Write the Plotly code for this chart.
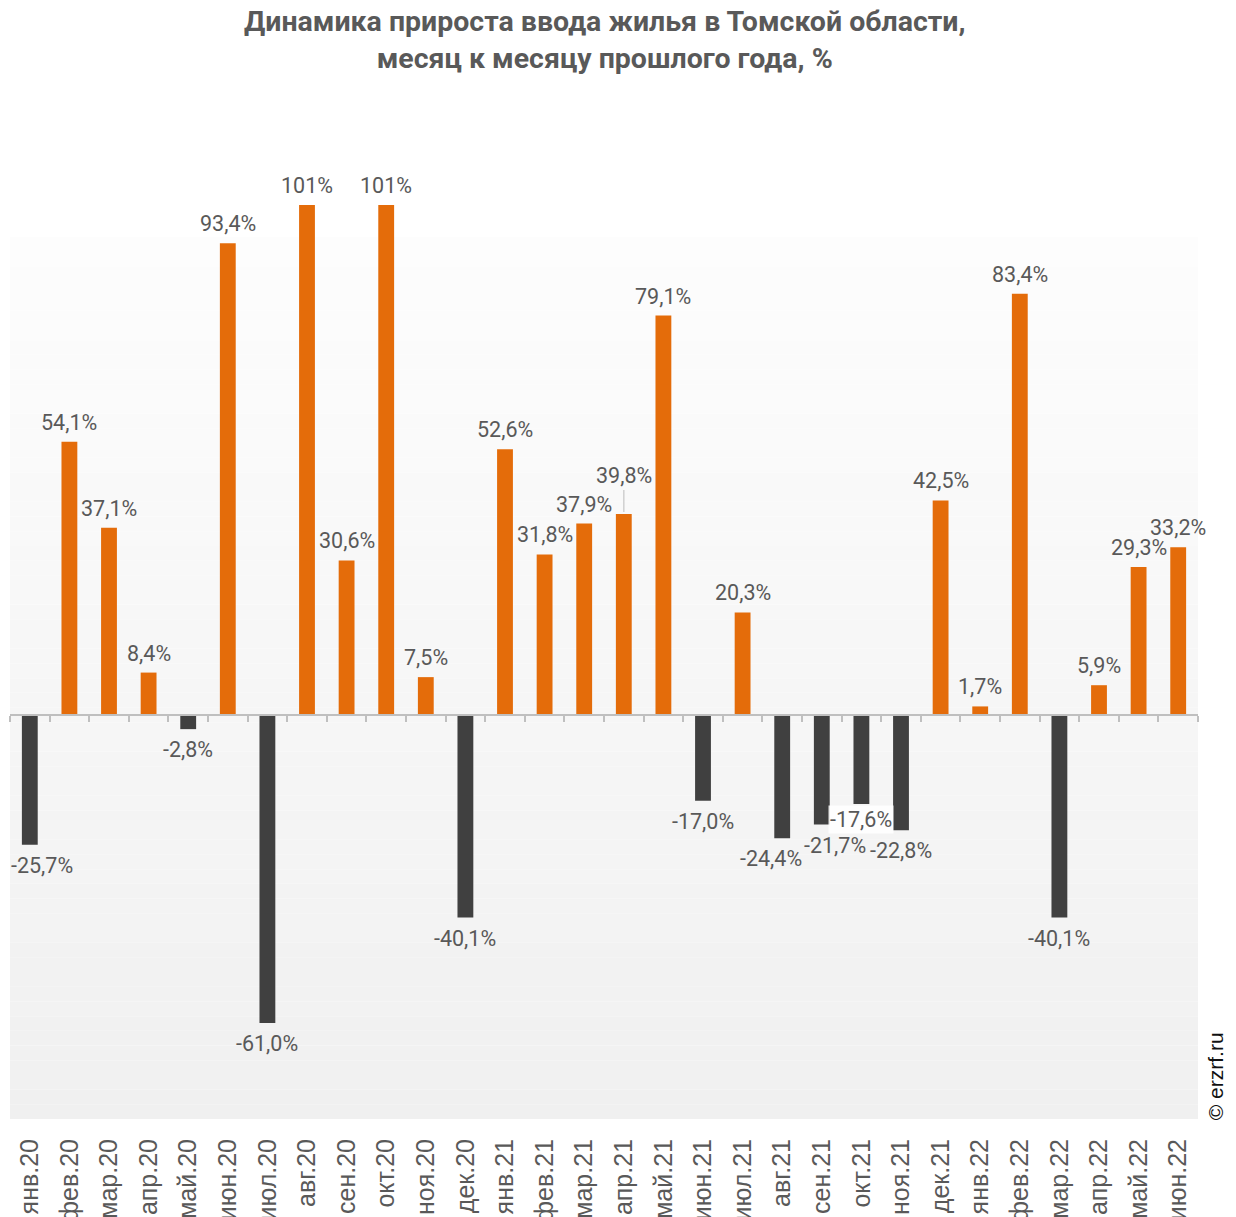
import plotly.graph_objects as go

# Monthly data
months = ['янв.20', 'фев.20', 'мар.20', 'апр.20', 'май.20', 'июн.20', 'июл.20', 'авг.20',
          'сен.20', 'окт.20', 'ноя.20', 'дек.20', 'янв.21', 'фев.21', 'мар.21', 'апр.21',
          'май.21', 'июн.21', 'июл.21', 'авг.21', 'сен.21', 'окт.21', 'ноя.21', 'дек.21',
          'янв.22', 'фев.22', 'мар.22', 'апр.22', 'май.22', 'июн.22']
growth = [-25.7, 54.1, 37.1, 8.4, -2.8, 93.4, -61.0, 101, 30.6, 101, 7.5, -40.1,
          52.6, 31.8, 37.9, 39.8, 79.1, -17.0, 20.3, -24.4, -21.7, -17.6, -22.8, 42.5,
          1.7, 83.4, -40.1, 5.9, 29.3, 33.2]

y_min, y_max = -80, 120
orange = '#E46C0A'
dark = '#404040'
text_color = '#595959'


def fmt(v):
    if abs(v) >= 100:
        return f"{v:.0f}%"
    return f"{v:.1f}%".replace('.', ',')


colors = [orange if v >= 0 else dark for v in growth]

fig = go.Figure()

fig.add_trace(go.Bar(
    x=months, y=growth,
    marker=dict(color=colors, line=dict(width=0)),
    width=0.4,
    hoverinfo='x+y',
    showlegend=False,
))

# invisible trace so the second x axis (ticks on the zero line) gets drawn
fig.add_trace(go.Bar(
    x=months, y=[0] * len(months), xaxis='x2', yaxis='y',
    marker=dict(color='rgba(0,0,0,0)'), hoverinfo='skip', showlegend=False,
))

# data labels
annotations = []
for m, v in zip(months, growth):
    a = dict(x=m, y=v, text=fmt(v), showarrow=False,
             font=dict(family='Roboto', size=21.5, color=text_color))
    if v >= 0:
        a.update(yanchor='bottom', yshift=5)
    else:
        a.update(yanchor='top', yshift=-6)
    if m == 'янв.20':
        a.update(xshift=12)
    if m == 'апр.21':
        # label lifted with a leader line
        a.update(showarrow=True, ax=0, ay=-24, arrowhead=0, arrowwidth=1.5,
                 arrowcolor='#D0D0D0', yanchor='bottom', yshift=0, standoff=2)
    if m == 'окт.21':
        a.update(bgcolor='rgba(255,255,255,0.85)', yshift=-1)
    if m == 'авг.21':
        a.update(xshift=-11)
    if m == 'сен.21':
        a.update(xshift=13)
    annotations.append(a)

# title
annotations.append(dict(
    xref='paper', yref='paper', x=0.5, y=1.068, xanchor='center', yanchor='middle',
    text='<b>Динамика прироста ввода жилья в Томской области,<br>месяц к месяцу прошлого года, %</b>',
    showarrow=False,
    font=dict(family='Roboto', size=28.5, color=text_color),
))

# watermark
annotations.append(dict(
    xref='paper', yref='paper', x=1.0145, y=-0.003, xanchor='center', yanchor='bottom',
    text='© erzrf.ru', textangle=-90, showarrow=False,
    font=dict(family='Liberation Sans, Arial', size=21, color='#111111'),
))

# vertical gradient background (white -> light gray)
shapes = []
n_bands = 60
top_frac = 0.873
for i in range(n_bands):
    y0 = top_frac * i / n_bands
    y1 = top_frac * (i + 1) / n_bands
    t = (i + 0.5) / n_bands  # 0 bottom, 1 top
    c = round(240 + 13 * t)
    shapes.append(dict(type='rect', xref='paper', yref='paper', x0=0, x1=1, y0=y0, y1=y1,
                       fillcolor=f'rgb({c},{c},{c})', line=dict(width=0), layer='below'))

zero_pos = (0 - y_min) / (y_max - y_min)
x_range = [-0.5, len(months) - 0.5]

# the page adds an 8px body margin, margins below account for it
fig.update_layout(
    width=1236, height=1217,
    margin=dict(l=2, r=46, t=101, b=106, autoexpand=False),
    paper_bgcolor='white',
    plot_bgcolor='white',
    barmode='overlay',
    xaxis=dict(
        type='category', range=x_range, automargin=False,
        tickangle=-90,
        tickfont=dict(family='Liberation Sans, Arial', size=25, color=text_color),
        ticks='outside', ticklen=9, tickcolor='rgba(0,0,0,0)',
        showline=False, showgrid=False, zeroline=False,
    ),
    xaxis2=dict(
        type='category', matches='x', overlaying='x', anchor='free', position=zero_pos,
        automargin=False,
        showticklabels=False, ticks='outside', tickson='boundaries', ticklen=6,
        tickwidth=2, tickcolor='#BFBFBF',
        showline=True, linecolor='#BFBFBF', linewidth=2, showgrid=False,
    ),
    yaxis=dict(
        range=[y_min, y_max], visible=False, showgrid=False, zeroline=False,
        automargin=False,
    ),
    annotations=annotations,
    shapes=shapes,
)

fig.write_html('out.html')
